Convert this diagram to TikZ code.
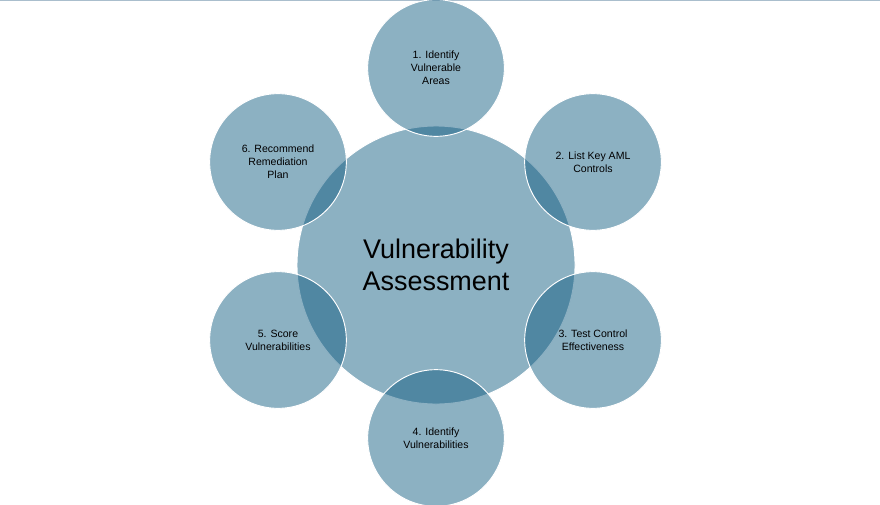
\documentclass[tikz,border=0pt]{standalone}
\usepackage{fontspec}
\setmainfont{Liberation Sans}
\definecolor{cyclefill}{RGB}{15,91,128}
\definecolor{topline}{RGB}{170,190,205}
\begin{document}
\begin{tikzpicture}[
        x=0.03cm, y=-0.03cm,
        hub/.style={circle, draw=white, line width=0.8pt, fill=cyclefill, fill opacity=0.48, text opacity=1, minimum size=8.34cm, font=\fontsize{23}{27}\selectfont, align=center},
        phase/.style={circle, draw=white, line width=0.8pt, fill=cyclefill, fill opacity=0.48, text opacity=1, minimum size=4.1cm, font=\fontsize{9}{11}\selectfont, align=center}
    ]
        \useasboundingbox (0,0) rectangle (880,504);
        \draw[topline, line width=0.6pt] (0,0.5) -- (880,0.5);
        % Central circle
        \node[hub] (hub) at (436,265) {Vulnerability\\Assessment};
        % Surrounding steps
        \node[phase] (phase-1) at (436,68) {1. Identify\\Vulnerable\\Areas};
        \node[phase] (phase-2) at (593,162) {2. List Key AML\\Controls};
        \node[phase] (phase-3) at (593,340) {3. Test Control\\Effectiveness};
        \node[phase] (phase-4) at (436,438) {4. Identify\\Vulnerabilities};
        \node[phase] (phase-5) at (278,340) {5. Score\\Vulnerabilities};
        \node[phase] (phase-6) at (278,162) {6. Recommend\\Remediation\\Plan};
\end{tikzpicture}
\end{document}
